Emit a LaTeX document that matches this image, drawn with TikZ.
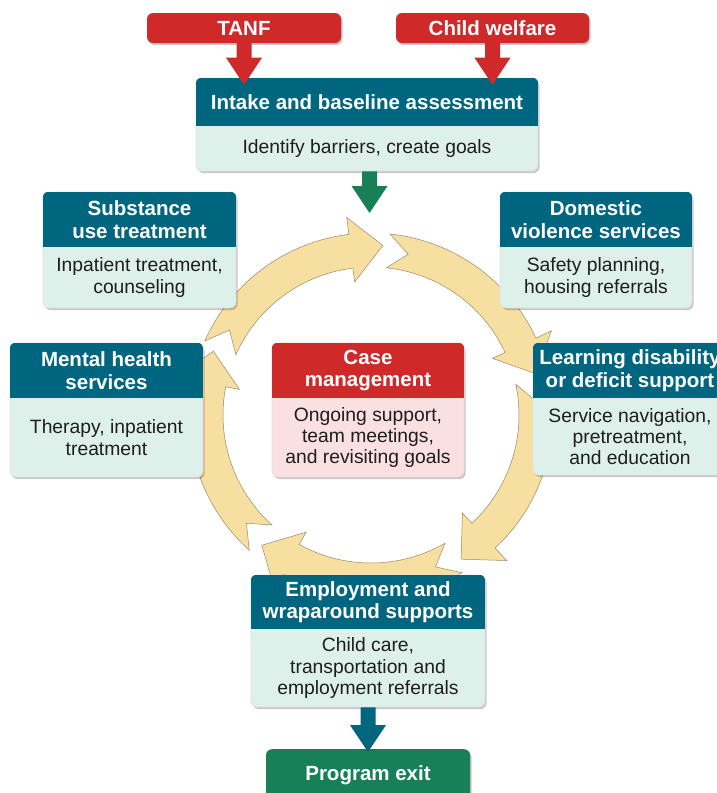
\documentclass[tikz,border=0pt]{standalone}
\usepackage{fontspec}
\setmainfont{Liberation Sans}
\usetikzlibrary{calc,fit,shadows}

\definecolor{headteal}{RGB}{0,102,128}
\definecolor{mint}{RGB}{222,240,234}
\definecolor{casered}{RGB}{208,41,42}
\definecolor{casepink}{RGB}{250,224,226}
\definecolor{exitgreen}{RGB}{23,128,88}
\definecolor{ringtan}{RGB}{247,223,162}
\definecolor{ringedge}{RGB}{150,138,105}
\definecolor{bodyink}{RGB}{30,30,30}

\tikzset{
  cardshadow/.style={drop shadow={shadow xshift=1.5pt, shadow yshift=-2pt, opacity=0.22, fill=black}},
  card/.style={inner sep=0pt, rounded corners=6pt, cardshadow, draw=black!12, line width=0.6pt},
  teal body/.style={fill=mint},
  teal head/.style={fill=headteal},
  red body/.style={fill=casepink},
  red head/.style={fill=casered},
  flatbox/.style={rounded corners=6pt, cardshadow, inner sep=0pt, text=white,
    font=\fontsize{20.5}{22.5}\selectfont\bfseries},
  titletext/.style={text=white, font=\fontsize{20.5}{22.5}\selectfont\bfseries, align=center, inner sep=0pt},
  bodytext/.style={text=bodyink, font=\fontsize{19.3}{21.3}\selectfont, align=center, inner sep=0pt},
  ringarrow/.style={fill=ringtan, draw=ringedge, line width=0.5pt, line join=miter},
}

% card with a coloured header band and a pale body
% #1 name, #2 #3 top-left, #4 #5 bottom-right, #6 header bottom, #7 palette, #8 title, #9 text
\newcommand\servicecard[9]{%
  \node[card, #7 body, fit={(#2,#3) (#4,#5)}] (#1) {};
  \begin{scope}
    \clip[rounded corners=6pt] (#1.south west) rectangle (#1.north east);
    \fill[#7 head] (#2,#3) rectangle (#4,#6);
  \end{scope}
  \node[titletext] (#1-title) at ({(#2+#4)/2},{(#3+#6)/2}) {#8};
  \node[bodytext] (#1-text) at ({(#2+#4)/2},{(#6+#5)/2}) {#9};
}

% downward block arrow: colour, start point, tip point
\newcommand\blockarrow[3]{%
  \fill[#1] let \p1=#2, \p2=#3 in
    (\x1-7.5pt,\y1) -- (\x1+7.5pt,\y1) -- (\x1+7.5pt,\y2+27pt) -- (\x1+18pt,\y2+27pt)
    -- (\x2,\y2) -- (\x1-18pt,\y2+27pt) -- (\x1-7.5pt,\y2+27pt) -- cycle;
}

% one curved arrow of the cycle, running clockwise from its notched tail angle
\newcommand\cyclearrow[1]{%
  \pgfmathsetmacro\tailA{#1}
  \pgfmathsetmacro\notchA{#1-7}
  \pgfmathsetmacro\headA{#1-59}
  \pgfmathsetmacro\tipA{#1-70}
  \draw[ringarrow] ([shift={(\tailA:182pt)}]ring)
    arc[start angle=\tailA, end angle=\headA, radius=182pt]
    -- ([shift={(\headA:199pt)}]ring)
    -- ([shift={(\tipA:170pt)}]ring)
    -- ([shift={(\headA:134pt)}]ring)
    -- ([shift={(\headA:148pt)}]ring)
    arc[start angle=\headA, end angle=\tailA, radius=148pt]
    -- ([shift={(\notchA:165pt)}]ring) -- cycle;
}

\begin{document}
\begin{tikzpicture}[x=1pt, y=-1pt]
\useasboundingbox (0,0) rectangle (717,793);

% the service cycle
\coordinate (ring) at (371,415);
\foreach \a in {156,84,12,-60,-132} {\cyclearrow{\a}}

% referral sources
\node[flatbox, fill=casered, minimum width=194pt, minimum height=30pt] (tanf) at (244,28) {TANF};
\node[flatbox, fill=casered, minimum width=193pt, minimum height=30pt] (welfare) at (492.5,28) {Child welfare};

% cards
\servicecard{intake}{196}{78}{538}{171}{126}{teal}{Intake and baseline assessment}{Identify barriers, create goals}
\servicecard{subst}{43}{192}{236}{308}{247}{teal}{Substance\\use treatment}{Inpatient treatment,\\counseling}
\servicecard{domestic}{500}{192}{692}{308}{247}{teal}{Domestic\\violence services}{Safety planning,\\housing referrals}
\servicecard{mental}{10}{343}{203}{477}{398}{teal}{Mental health\\services}{Therapy, inpatient\\treatment}
\servicecard{case}{272}{343}{464}{477}{398}{red}{Case\\management}{Ongoing support,\\team meetings,\\and revisiting goals}
\servicecard{learning}{533}{343}{727}{475}{398}{teal}{Learning disability\\or deficit support}{Service navigation,\\pretreatment,\\and education}
\servicecard{employ}{251}{575}{485}{707}{629}{teal}{Employment and\\wraparound supports}{Child care,\\transportation and\\employment referrals}

\node[flatbox, fill=exitgreen, minimum width=204pt, minimum height=52pt, anchor=north] (exit) at (368,749) {Program exit};

% flow arrows
\coordinate (ringtop) at (369.5,213);
\blockarrow{casered}{(tanf.south)}{($(intake.north -| tanf.south)+(0,-7pt)$)}
\blockarrow{casered}{(welfare.south)}{($(intake.north -| welfare.south)+(0,-7pt)$)}
\blockarrow{exitgreen}{(intake.south -| ringtop)}{(ringtop)}
\blockarrow{headteal}{(employ.south)}{($(exit.north)+(0,-3pt)$)}
\end{tikzpicture}
\end{document}
